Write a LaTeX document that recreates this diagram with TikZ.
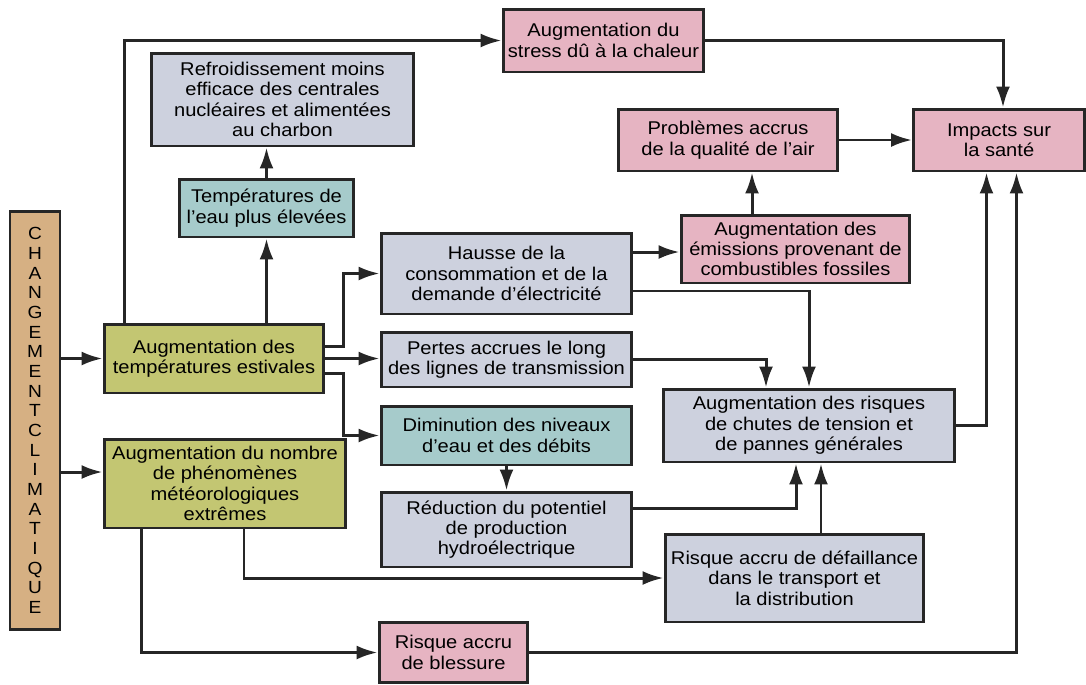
\documentclass[tikz,border=0pt]{standalone}
\usepackage{fontspec}
\setmainfont{Liberation Sans}[FakeStretch=1.09]
\usepackage{xcolor}
\usepackage{tikz}
\usetikzlibrary{arrows.meta}
\definecolor{beige}{HTML}{D6B083}
\definecolor{olive}{HTML}{C3C672}
\definecolor{gris}{HTML}{CDD1DE}
\definecolor{turquoise}{HTML}{A6CBCB}
\definecolor{rose}{HTML}{E6B4C2}
\tikzset{
	boite/.style={draw=black!85, line width=1.7pt, inner sep=0pt, align=center,
		font=\fontsize{10.5}{11.6}\selectfont},
	fleche/.style={-{Latex[length=0.42cm, width=0.28cm]}, line width=1.7pt, black!85},
}

\begin{document}
\begin{tikzpicture}[x=0.02cm, y=-0.02cm]
		\useasboundingbox (0,0) rectangle (1086,684);
		
		\node[boite, fill=beige, minimum width=1cm, minimum height=8.38cm, font=\fontsize{10}{11.2}\selectfont] (cc) at (35,420.5)
			{C\\H\\A\\N\\G\\E\\M\\E\\N\\T\\C\\L\\I\\M\\A\\T\\I\\Q\\U\\E};
		
		\node[boite, fill=olive, minimum width=4.4cm, minimum height=1.38cm] (estivales) at (214,358.5) {Augmentation des\\températures estivales};
		\node[boite, fill=olive, minimum width=4.84cm, minimum height=1.78cm] (extremes) at (225,483.5) {Augmentation du nombre\\de phénomènes\\météorologiques\\extrêmes};
		
		\node[boite, fill=gris, minimum width=5.26cm, minimum height=1.86cm] (refroid) at (282.5,99.5) {Refroidissement moins\\efficace des centrales\\nucléaires et alimentées\\au charbon};
		\node[boite, fill=turquoise, minimum width=3.5cm, minimum height=1.16cm] (teau) at (266.5,208) {Températures de\\l’eau plus élevées};
		
		\node[boite, fill=rose, minimum width=4.02cm, minimum height=1.26cm] (stress) at (603.5,40.5) {Augmentation du\\stress dû à la chaleur};
		\node[boite, fill=rose, minimum width=4.4cm, minimum height=1.24cm] (qualite) at (728,140) {Problèmes accrus\\de la qualité de l’air};
		\node[boite, fill=rose, minimum width=3.42cm, minimum height=1.24cm] (sante) at (999,140) {Impacts sur\\la santé};
		\node[boite, fill=rose, minimum width=4.58cm, minimum height=1.36cm] (emissions) at (795.5,249) {Augmentation des\\émissions provenant de\\combustibles fossiles};
		
		\node[boite, fill=gris, minimum width=5.02cm, minimum height=1.62cm] (hausse) at (506.5,273.5) {Hausse de la\\consommation et de la\\demande d’électricité};
		\node[boite, fill=gris, minimum width=5.02cm, minimum height=1.1cm] (pertes) at (506.5,359.5) {Pertes accrues le long\\des lignes de transmission};
		\node[boite, fill=turquoise, minimum width=5.02cm, minimum height=1.18cm] (niveaux) at (506.5,435.5) {Diminution des niveaux\\d’eau et des débits};
		\node[boite, fill=gris, minimum width=5.02cm, minimum height=1.5cm] (hydro) at (506.5,529.5) {Réduction du potentiel\\de production\\hydroélectrique};
		\node[boite, fill=rose, minimum width=2.98cm, minimum height=1.2cm] (blessure) at (453.5,652.5) {Risque accru\\de blessure};
		
		\node[boite, fill=gris, minimum width=5.84cm, minimum height=1.46cm] (risques) at (809,425.5) {Augmentation des risques\\de chutes de tension et\\de pannes générales};
		\node[boite, fill=gris, minimum width=5.18cm, minimum height=1.76cm] (defaillance) at (794.5,578) {Risque accru de défaillance\\dans le transport et\\la distribution};
		
		% points de depart decales
		\coordinate (c1) at ([yshift=0.23cm]extremes.west);
		\coordinate (h1) at ([yshift=0.43cm]hausse.east);
		\coordinate (h2) at ([yshift=-0.35cm]hausse.east);
		\coordinate (e1) at ([xshift=-0.87cm]emissions.north);
		\coordinate (r1) at ([yshift=0.43cm]hydro.east);
		\coordinate (d1) at ([xshift=0.53cm]defaillance.north);
		\coordinate (x1) at ([xshift=0.38cm]extremes.south);
		\coordinate (x2) at ([xshift=-1.68cm]extremes.south);
		
		\draw[fleche] (cc.east |- estivales.west) -- (estivales.west);
		\draw[fleche] (cc.east |- c1) -- (c1);
		
		\draw[fleche] ([xshift=0.44cm]estivales.north west) |- (stress.west);
		\draw[fleche] (estivales.north -| teau.south) -- (teau.south);
		\draw[fleche] (teau.north) -- (teau.north |- refroid.south);
		\draw[fleche] ([yshift=0.25cm]estivales.east) -- ++(0.36cm,0) |- (hausse.west);
		\draw[fleche] (estivales.east) -- (pertes.west |- estivales.east);
		\draw[fleche] ([yshift=-0.3cm]estivales.east) -- ++(0.36cm,0) |- (niveaux.west);
		
		\draw[fleche] (h1) -- (h1 -| emissions.west);
		\draw[fleche] (h2) -| (risques.north);
		\draw[fleche] (e1) -- (e1 |- qualite.south);
		\draw[fleche] (qualite.east) -- (sante.west);
		\draw[fleche] (stress.east) -| ([xshift=0.08cm]sante.north);
		
		\draw[fleche] (pertes.east) -| ([xshift=-0.86cm]risques.north);
		\draw[fleche] (niveaux.south) -- (hydro.north);
		\draw[fleche] (r1) -| ([xshift=-0.26cm]risques.south);
		\draw[fleche] (d1) -- (d1 |- risques.south);
		\draw[fleche] (risques.east) -| ([xshift=-0.25cm]sante.south);
		
		\draw[fleche] (x1) |- (defaillance.west);
		\draw[fleche] (x2) |- (blessure.west);
		\draw[fleche] (blessure.east) -| ([xshift=0.35cm]sante.south);
	\end{tikzpicture}
\end{document}
